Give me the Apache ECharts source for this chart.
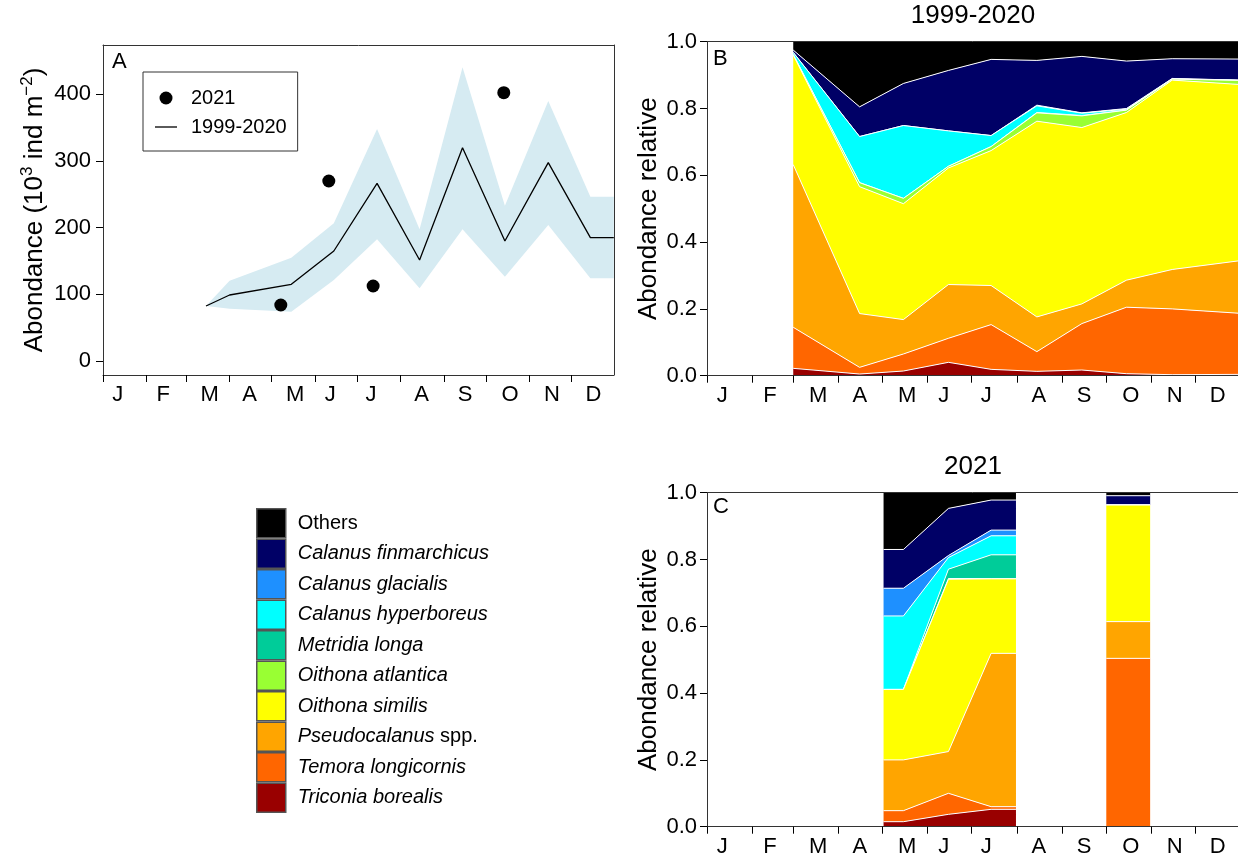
<!DOCTYPE html>
<html>
<head>
<meta charset="utf-8">
<script src="https://cdn.jsdelivr.net/npm/echarts@6/dist/echarts.min.js"></script>
<style>
html,body{margin:0;padding:0;background:#fff;}
#c{width:1238px;height:858px;}
</style>
</head>
<body>
<div id="c"></div>
<script>
// ---------- axis definitions (day of year) ----------
const MONTH_LABELS = ['J','F','M','A','M','J','J','A','S','O','N','D'];
const MONTH_START_DAYS = [0, 31, 59, 90, 120, 151, 181, 212, 243, 273, 304, 334];
const MONTH_LABEL_DAYS = [10.5, 43, 76, 104.5, 137, 162, 191, 227, 258, 290, 320, 349.5];
const A_TICKS = [0, 100, 200, 300, 400];

// ---------- Panel A : abundance (10^3 ind m^-2) ----------
const A_DAYS = [73.4, 90.2, 134.2, 164.5, 195.3, 225.6, 256.2, 286.4, 317.3, 347.3, 364];
const A_MEAN = [82.5, 99, 115, 165, 266.5, 151.5, 320, 180, 297.5, 185, 185];
const A_LOW  = [82.5, 78.5, 74, 121.5, 182.5, 109, 197.5, 126.5, 204, 124, 124];
const A_HIGH = [82.5, 120.5, 155, 206.5, 348, 197.5, 440.5, 233, 390, 246.5, 246.5];
const Y2021_DAYS  = [126.7, 160.9, 192.5, 285.6];
const Y2021_ABUND = [84, 270, 112.5, 402.5];

// ---------- species (legend order, top to bottom) ----------
const SPECIES = ['Others', 'Calanus finmarchicus', 'Calanus glacialis', 'Calanus hyperboreus',
  'Metridia longa', 'Oithona atlantica', 'Oithona similis', 'Pseudocalanus spp.',
  'Temora longicornis', 'Triconia borealis'];

// ---------- Panel B : relative abundance 1999-2020 ----------
const B_DAYS         = [59, 104.4, 134.4, 165.2, 194.4, 225.7, 256.5, 287, 318.3, 364];
const B_OTHERS       = [0.025, 0.195, 0.125, 0.086, 0.053, 0.056, 0.044, 0.058, 0.051, 0.052];
const B_CFINMARCH    = [0.007, 0.089, 0.126, 0.181, 0.228, 0.134, 0.169, 0.142, 0.059, 0.063];
const B_CGLACIALIS   = [0, 0, 0, 0, 0, 0.002, 0.001, 0.002, 0.001, 0];
const B_CHYPERBOREUS = [0.006, 0.138, 0.218, 0.106, 0.033, 0.020, 0.007, 0.003, 0.001, 0.001];
const B_METRIDIA     = [0, 0, 0, 0, 0, 0.001, 0.001, 0, 0, 0];
const B_OATLANTICA   = [0.002, 0.012, 0.016, 0.005, 0.012, 0.025, 0.035, 0.007, 0.003, 0.012];
const B_OSIMILIS     = [0.328, 0.380, 0.347, 0.349, 0.404, 0.586, 0.528, 0.502, 0.567, 0.528];
const B_PSEUDOCAL    = [0.487, 0.161, 0.103, 0.161, 0.117, 0.104, 0.059, 0.081, 0.118, 0.157];
const B_TEMORA       = [0.123, 0.020, 0.051, 0.072, 0.134, 0.059, 0.139, 0.199, 0.197, 0.183];
const B_TRICONIA     = [0.022, 0.005, 0.014, 0.040, 0.019, 0.013, 0.017, 0.006, 0.003, 0.004];

// ---------- Panel C : relative abundance 2021 (null = no sampling) ----------
const C_DAYS         = [120.8, 134.4, 165.2, 194.4, 211.4, 242, 273.2, 303.2];
const C_OTHERS       = [0.170, 0.170, 0.047, 0.022, 0.022, null, 0.009, 0.009];
const C_CFINMARCH    = [0.116, 0.116, 0.141, 0.090, 0.090, null, 0.028, 0.028];
const C_CGLACIALIS   = [0.083, 0.083, 0.006, 0.017, 0.017, null, 0, 0];
const C_CHYPERBOREUS = [0.220, 0.220, 0.035, 0.057, 0.057, null, 0, 0];
const C_METRIDIA     = [0, 0, 0.028, 0.071, 0.071, null, 0, 0];
const C_OATLANTICA   = [0, 0, 0.002, 0.001, 0.001, null, 0, 0];
const C_OSIMILIS     = [0.211, 0.211, 0.516, 0.223, 0.223, null, 0.349, 0.349];
const C_PSEUDOCAL    = [0.152, 0.152, 0.125, 0.459, 0.459, null, 0.110, 0.110];
const C_TEMORA       = [0.033, 0.033, 0.063, 0.008, 0.008, null, 0.504, 0.504];
const C_TRICONIA     = [0.015, 0.015, 0.037, 0.052, 0.052, null, 0, 0];

// ---------- styles ----------
const SPECIES_COLORS = ['#000000', '#000066', '#1E90FF', '#00FFFF', '#00CC99',
  '#99FF33', '#FFFF00', '#FFA500', '#FF6600', '#990000'];
const FONT = 'Liberation Sans, Arial, Helvetica, sans-serif';
const FRAME = '#333333';

const B_LAYERS = [B_OTHERS, B_CFINMARCH, B_CGLACIALIS, B_CHYPERBOREUS, B_METRIDIA,
  B_OATLANTICA, B_OSIMILIS, B_PSEUDOCAL, B_TEMORA, B_TRICONIA];
const C_LAYERS = [C_OTHERS, C_CFINMARCH, C_CGLACIALIS, C_CHYPERBOREUS, C_METRIDIA,
  C_OATLANTICA, C_OSIMILIS, C_PSEUDOCAL, C_TEMORA, C_TRICONIA];

function monthName(v) {
  let best = 0;
  for (let i = 0; i < MONTH_LABEL_DAYS.length; i++) {
    if (Math.abs(MONTH_LABEL_DAYS[i] - v) < Math.abs(MONTH_LABEL_DAYS[best] - v)) best = i;
  }
  return MONTH_LABELS[best];
}

// Stacked bands: layers given top->bottom, stacked from the bottom.
// Each layer is drawn as polygons between its lower and upper cumulative boundary.
function stackedSeries(days, layers, xi, yi) {
  const n = layers.length;
  const lower = new Array(n), upper = new Array(n);
  let run = days.map(() => 0);
  for (let k = n - 1; k >= 0; k--) {
    lower[k] = run.slice();
    run = run.map((r, i) => (layers[k][i] == null || r == null) ? null : r + layers[k][i]);
    upper[k] = run.slice();
  }
  // contiguous runs of sampled points
  const runs = [];
  let cur = [];
  days.forEach((d, i) => {
    if (layers[0][i] == null) { if (cur.length) runs.push(cur); cur = []; }
    else cur.push(i);
  });
  if (cur.length) runs.push(cur);

  const out = [];
  for (let k = 0; k < n; k++) {
    const lo = lower[k], up = upper[k], col = SPECIES_COLORS[k], drawLine = k !== 0;
    out.push({
      type: 'custom', name: SPECIES[k], xAxisIndex: xi, yAxisIndex: yi,
      silent: true, z: 2, clip: true,
      data: runs.map((r, ri) => [days[r[0]], up[r[0]], ri]),
      renderItem: function (params, api) {
        const r = runs[params.dataIndex];
        const top = r.map(i => api.coord([days[i], up[i]]));
        const bot = r.slice().reverse().map(i => api.coord([days[i], lo[i]]));
        const children = [{
          type: 'polygon', shape: { points: top.concat(bot) },
          style: { fill: col, stroke: null }
        }];
        if (drawLine) children.push({
          type: 'polyline', shape: { points: top },
          style: { stroke: '#ffffff', lineWidth: 1, fill: null }
        });
        return { type: 'group', children: children };
      }
    });
  }
  return out;
}

function monthAxisBottom(gi) {
  return {
    type: 'value', gridIndex: gi, min: 0, max: 364, position: 'bottom', z: 10,
    axisLine: { show: true, onZero: false, lineStyle: { color: FRAME, width: 1 } },
    axisTick: { show: true, length: 7, customValues: MONTH_START_DAYS, lineStyle: { color: '#000', width: 1 } },
    axisLabel: { show: true, customValues: MONTH_LABEL_DAYS, formatter: v => monthName(v),
      fontSize: 22, color: '#000', margin: 9, fontFamily: FONT },
    splitLine: { show: false }
  };
}
function monthAxisTop(gi) {
  return {
    type: 'value', gridIndex: gi, min: 0, max: 364, position: 'top', z: 10,
    axisLine: { show: true, onZero: false, lineStyle: { color: FRAME, width: 1 } },
    axisTick: { show: false }, axisLabel: { show: false }, splitLine: { show: false }
  };
}
function relYAxis(gi) {
  return {
    type: 'value', gridIndex: gi, min: 0, max: 1, interval: 0.2, z: 10,
    axisLine: { show: true, onZero: false, lineStyle: { color: FRAME, width: 1 } },
    axisTick: { show: true, length: 7, lineStyle: { color: '#000' } },
    axisLabel: { fontSize: 22, color: '#000', margin: 10, fontFamily: FONT, formatter: v => v.toFixed(1) },
    splitLine: { show: false },
    name: 'Abondance relative', nameLocation: 'middle', nameGap: 45,
    nameTextStyle: { fontSize: 26, color: '#000', fontFamily: FONT }
  };
}

const option = {
  animation: false,
  backgroundColor: '#ffffff',
  textStyle: { fontFamily: FONT, color: '#000' },
  grid: [
    { left: 103, top: 45, width: 510.8, height: 330, outerBoundsMode: 'none', containLabel: false },
    { left: 707, top: 41.7, width: 532, height: 334, outerBoundsMode: 'none', containLabel: false },
    { left: 707, top: 492.7, width: 532, height: 334, outerBoundsMode: 'none', containLabel: false }
  ],
  xAxis: [
    monthAxisBottom(0), monthAxisTop(0),
    monthAxisBottom(1), monthAxisTop(1),
    monthAxisBottom(2), monthAxisTop(2)
  ],
  yAxis: [
    {
      type: 'value', gridIndex: 0, min: -21, max: 474, z: 10,
      axisLine: { show: true, onZero: false, lineStyle: { color: FRAME, width: 1 } },
      axisTick: { show: true, length: 7, customValues: A_TICKS, lineStyle: { color: '#000' } },
      axisLabel: { customValues: A_TICKS, fontSize: 22, color: '#000', margin: 12, fontFamily: FONT },
      splitLine: { show: false },
      name: '{n|Abondance (10}{s|3}{n| ind m}{s|\u22122}{n|)}',
      nameLocation: 'middle', nameGap: 55,
      nameTextStyle: {
        fontFamily: FONT,
        rich: {
          n: { fontSize: 26, lineHeight: 29, verticalAlign: 'bottom', color: '#000', fontFamily: FONT },
          s: { fontSize: 17, lineHeight: 17, verticalAlign: 'top', color: '#000', fontFamily: FONT }
        }
      }
    },
    {
      type: 'value', gridIndex: 0, min: -21, max: 474, position: 'right', z: 10,
      axisLine: { show: true, onZero: false, lineStyle: { color: FRAME, width: 1 } },
      axisTick: { show: false }, axisLabel: { show: false }, splitLine: { show: false }
    },
    relYAxis(1),
    relYAxis(2)
  ],
  title: [
    { text: 'A', left: 112, top: 51, padding: 0, textAlign: 'left', textStyle: { fontSize: 22, fontWeight: 'normal', color: '#000', fontFamily: FONT } },
    { text: 'B', left: 713, top: 48, padding: 0, textAlign: 'left', textStyle: { fontSize: 22, fontWeight: 'normal', color: '#000', fontFamily: FONT } },
    { text: 'C', left: 713, top: 496, padding: 0, textAlign: 'left', textStyle: { fontSize: 22, fontWeight: 'normal', color: '#000', fontFamily: FONT } },
    { text: '1999-2020', left: 973, top: 3, padding: 0, textAlign: 'center', textStyle: { fontSize: 26, fontWeight: 'normal', color: '#000', fontFamily: FONT } },
    { text: '2021', left: 973, top: 454, padding: 0, textAlign: 'center', textStyle: { fontSize: 26, fontWeight: 'normal', color: '#000', fontFamily: FONT } }
  ],
  legend: [
    {
      orient: 'vertical', left: 143, top: 72, selectedMode: false,
      padding: [16, 11, 14, 12], itemGap: 9, itemWidth: 22, itemHeight: 13,
      borderColor: FRAME, borderWidth: 1, backgroundColor: '#fff',
      textStyle: { fontSize: 20, lineHeight: 20, color: '#000', fontFamily: FONT, padding: [0, 0, 0, 9] },
      data: [
        { name: '2021', icon: 'circle', itemStyle: { color: '#000', opacity: 1 } },
        { name: '1999-2020', icon: 'path://M0,0H22V1.3H0Z', itemStyle: { color: '#000', opacity: 1 } }
      ]
    },
    {
      orient: 'vertical', left: 256, top: 508, selectedMode: false,
      padding: 0, itemGap: 0, itemWidth: 29, itemHeight: 29,
      textStyle: {
        fontSize: 20, color: '#000', fontFamily: FONT, padding: [0, 0, 0, 7],
        rich: { i: { fontStyle: 'italic', fontSize: 20, color: '#000', fontFamily: FONT } }
      },
      formatter: name => name === 'Others' ? name
        : (name === 'Pseudocalanus spp.' ? '{i|Pseudocalanus} spp.' : '{i|' + name + '}'),
      data: SPECIES.map((s, k) => ({
        name: s, icon: 'rect',
        itemStyle: { color: SPECIES_COLORS[k], borderColor: '#555', borderWidth: 1.5, opacity: 1 }
      }))
    }
  ],
  series: [
    {
      type: 'custom', name: 'range', xAxisIndex: 0, yAxisIndex: 0, silent: true, z: 1,
      data: [[A_DAYS[0], A_MEAN[0]]],
      renderItem: function (params, api) {
        const pts = [];
        for (let i = 0; i < A_DAYS.length; i++) pts.push(api.coord([A_DAYS[i], A_HIGH[i]]));
        for (let i = A_DAYS.length - 1; i >= 0; i--) pts.push(api.coord([A_DAYS[i], A_LOW[i]]));
        return { type: 'polygon', shape: { points: pts }, style: { fill: '#D6EBF2', stroke: null } };
      }
    },
    {
      type: 'line', name: '1999-2020', xAxisIndex: 0, yAxisIndex: 0, z: 3,
      data: A_DAYS.map((d, i) => [d, A_MEAN[i]]),
      symbol: 'none', color: '#000', lineStyle: { color: '#000', width: 1.3 }
    },
    {
      type: 'scatter', name: '2021', xAxisIndex: 0, yAxisIndex: 0, z: 4,
      data: Y2021_DAYS.map((d, i) => [d, Y2021_ABUND[i]]),
      symbol: 'circle', symbolSize: 13, itemStyle: { color: '#000', opacity: 1 }
    },
    ...stackedSeries(B_DAYS, B_LAYERS, 2, 2),
    ...stackedSeries(C_DAYS, C_LAYERS, 4, 3)
  ]
};

const chart = echarts.init(document.getElementById('c'), null, { renderer: 'canvas', width: 1238, height: 858 });
chart.setOption(option);
</script>
</body>
</html>
